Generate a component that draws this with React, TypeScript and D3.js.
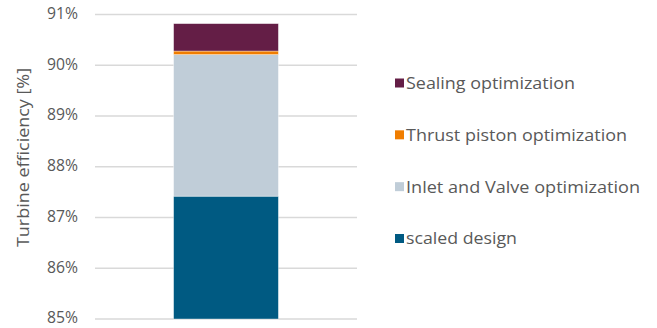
import React from "react";
import * as d3 from "d3";

const seriesNames = ["scaled design", "Inlet and Valve optimization", "Thrust piston optimization", "Sealing optimization"];
const seriesValues = [87.42, 2.79, 0.07, 0.54];
const seriesColors = ["#005A82", "#C0CDD8", "#F07D00", "#641E46"];
const yTicks = [85, 86, 87, 88, 89, 90, 91];
const categories = ["Turbine"];
const legendWidths = [111, 234, 221, 169];

const W = 657;
const H = 328;
const FONT = "'Open Sans', sans-serif";
const TEXT = "#595959";

export default function App() {
  const y = d3.scaleLinear().domain([85, 91]).range([319, 14.5]);
  const x = d3.scaleBand().domain(categories).range([95, 357]).paddingInner(0.6).paddingOuter(0.3);

  let acc = 0;
  const segs = seriesValues.map((v, i) => {
    const y0 = acc;
    acc += v;
    return { name: seriesNames[i], color: seriesColors[i], y0, y1: acc };
  });

  const legendOrder = [3, 2, 1, 0];
  const legendY = d3.scalePoint<number>().domain(legendOrder).range([83, 238.5]);

  return (
    <svg width={W} height={H} style={{ position: "absolute", left: 0, top: 0, background: "#fff" }}>
      {yTicks.map((t) => (
        <g key={t}>
          <line x1={95} x2={357} y1={y(t)} y2={y(t)} stroke="#D9D9D9" strokeWidth={1.5} />
          <text
            x={78}
            y={y(t)}
            dy="0.28em"
            textAnchor="end"
            fontFamily={FONT}
            fontSize={15.5}
            textLength={31}
            lengthAdjust="spacingAndGlyphs"
            fill={TEXT}
          >
            {t}%
          </text>
        </g>
      ))}
      {categories.map((c) =>
        segs.map((s) => (
          <rect
            key={c + s.name}
            x={x(c)!}
            width={x.bandwidth()}
            y={y(Math.max(85, s.y1))}
            height={y(Math.max(85, s.y0)) - y(Math.max(85, s.y1))}
            fill={s.color}
            stroke="#ffffff"
            strokeOpacity={0.5}
            strokeWidth={0.75}
          />
        ))
      )}
      <text
        transform={`translate(23,157.5) rotate(-90)`}
        textAnchor="middle"
        dy="0.35em"
        fontFamily={FONT}
        fontSize={17}
        textLength={179}
        lengthAdjust="spacingAndGlyphs"
        fill={TEXT}
      >
        Turbine efficiency [%]
      </text>
      {legendOrder.map((i) => (
        <g key={i} transform={`translate(395,${legendY(i)})`}>
          <rect x={0} y={-4.5} width={9} height={9} fill={seriesColors[i]} />
          <text
            x={11}
            y={0}
            dy="0.35em"
            fontFamily={FONT}
            fontSize={17}
            textLength={legendWidths[i]}
            lengthAdjust="spacingAndGlyphs"
            fill={TEXT}
          >
            {seriesNames[i]}
          </text>
        </g>
      ))}
    </svg>
  );
}
